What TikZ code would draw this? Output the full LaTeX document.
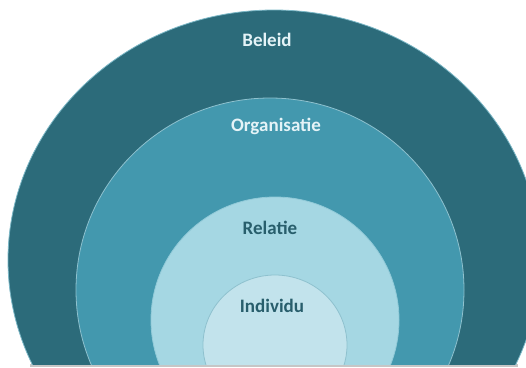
\documentclass[tikz,border=0pt]{standalone}
\usepackage{fontspec}
\setmainfont{Carlito}
\usepackage{tikz}

\definecolor{beleidcol}{HTML}{2C6B7A}
\definecolor{orgcol}{HTML}{4398AE}
\definecolor{relcol}{HTML}{A5D7E3}
\definecolor{indcol}{HTML}{C2E3EC}
\definecolor{lighttxt}{HTML}{E4F3F7}
\definecolor{darktxt}{HTML}{285E6C}

\begin{document}
\begin{tikzpicture}[x=1pt, y=-1pt,
    layer/.style={line width=0.8pt},
    lbl/.style={font=\bfseries\fontsize{19}{21}\selectfont, inner sep=0pt}]
        \useasboundingbox (0,0) rectangle (526,367);
        % shadow under the cut
        \fill[gray!45] (30,363.5) rectangle (518,366.5);
        \begin{scope}
            \clip (0,0) rectangle (526,364.5);
            \draw[layer, fill=beleidcol, draw=orgcol!70] (274,260) ellipse[x radius=266, y radius=250];
            \draw[layer, fill=orgcol, draw=orgcol!60!white] (270,290) ellipse[x radius=194, y radius=192];
            \draw[layer, fill=relcol, draw=relcol!80!orgcol] (275,320) ellipse[x radius=124, y radius=123];
            \draw[layer, fill=indcol, draw=orgcol!60!white] (275,345) ellipse[x radius=72, y radius=70];
        \end{scope}
        \node[lbl, text=lighttxt] (beleid) at (267,40) {Beleid};
        \node[lbl, text=lighttxt] (org) at (276,126) {Organisatie};
        \node[lbl, text=darktxt] (relatie) at (270,228) {Relatie};
        \node[lbl, text=darktxt] (individu) at (272,306) {Individu};
    \end{tikzpicture}
\end{document}
